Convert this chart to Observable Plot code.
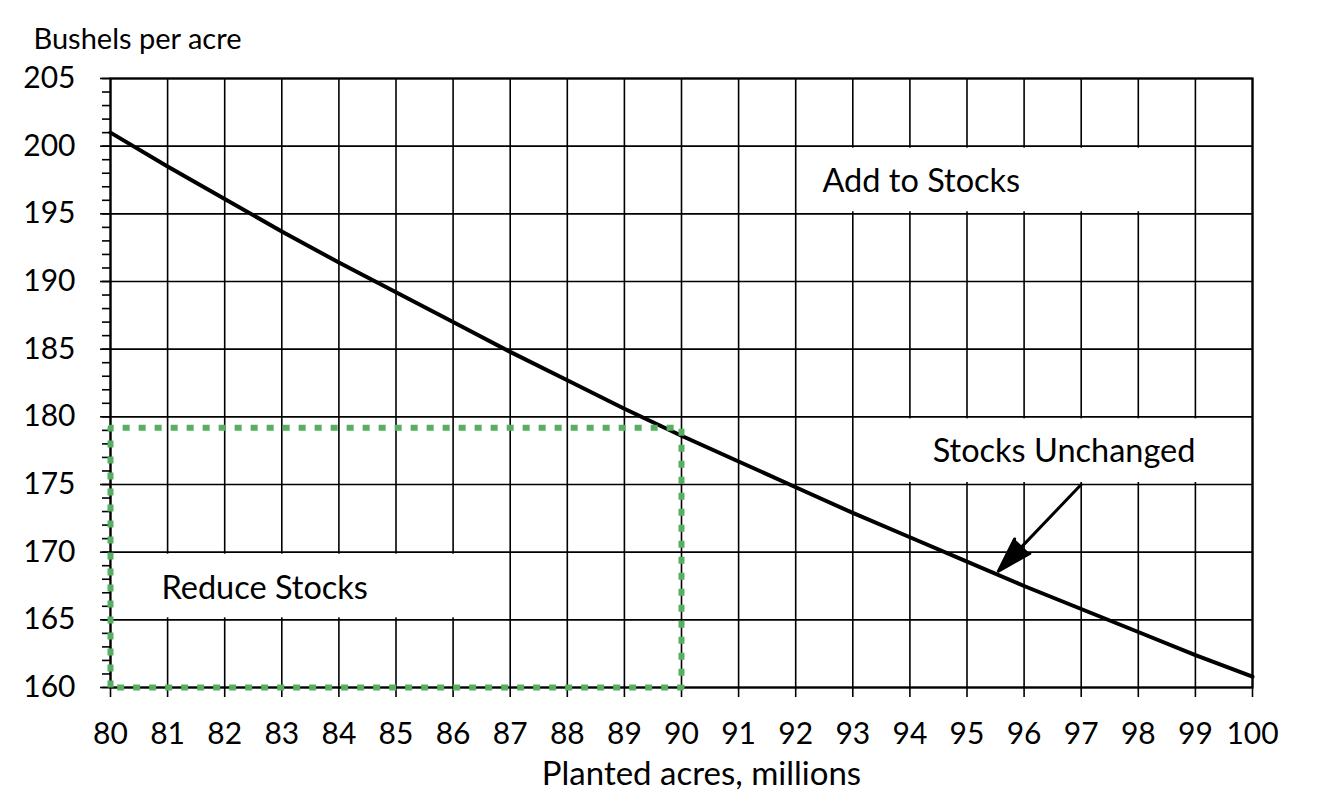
<!DOCTYPE html>
<html>
<head>
<meta charset="utf-8">
<script src="https://cdn.jsdelivr.net/npm/d3@7"></script>
<script src="https://cdn.jsdelivr.net/npm/@observablehq/plot@0.6"></script>
<style>
  html, body { margin: 0; padding: 0; background: #fff; }
  #chart svg { display: block; }
</style>
</head>
<body>
<div id="chart"></div>
<script>
// Planted acres (millions) and yield needed to keep stocks unchanged
const acres = [80, 81, 82, 83, 84, 85, 86, 87, 88, 89, 90, 91, 92, 93, 94, 95, 96, 97, 98, 99, 100];
const bushels = [201.0, 198.5, 196.1, 193.7, 191.4, 189.2, 187.0, 184.8, 182.7, 180.6, 178.6, 176.7, 174.8, 172.9, 171.1, 169.3, 167.5, 165.8, 164.1, 162.4, 160.8];

const xTicks = d3.range(80, 101, 1);
const yTicks = [160, 165, 170, 175, 180, 185, 190, 195, 200, 205];
const yMinorTicks = d3.range(160, 206, 1);

// dotted "Reduce Stocks" region corners
const regionX = [80, 80, 90, 90, 80];
const regionY = [160, 179.2, 179.2, 160, 160];

// annotation labels
const labelText = ["Add to Stocks", "Reduce Stocks", "Stocks Unchanged"];
const labelX = [94.2, 82.7, 96.7];
const labelY = [197.4, 167.3, 177.4];
const boxX1 = [92.05, 80, 93.05];
const boxX2 = [98.95, 86.5, 99.95];
const boxY1 = [195, 165, 175];
const boxY2 = [200, 170, 180];

// arrow pointing at the curve
const arrowFrom = [97.0, 175.0];
const arrowTo = [95.55, 168.6];

const curve = acres.map((a, i) => ({x: a, y: bushels[i]}));
const region = regionX.map((x, i) => ({x, y: regionY[i]}));
const labels = labelText.map((t, i) => ({text: t, x: labelX[i], y: labelY[i], x1: boxX1[i], x2: boxX2[i], y1: boxY1[i], y2: boxY2[i]}));

const chart = Plot.plot({
  width: 1340,
  height: 802,
  marginTop: 78,
  marginLeft: 110,
  marginRight: 88,
  marginBottom: 115,
  style: {fontFamily: "Lato, 'Open Sans', sans-serif", fontSize: "30px", color: "#000", background: "#fff"},
  x: {domain: [80, 100], ticks: xTicks},
  y: {domain: [160, 205], ticks: yTicks},
  marks: [
    Plot.gridX(xTicks, {stroke: "#000", strokeOpacity: 1, strokeWidth: 1.6}),
    Plot.rect(labels, {x1: "x1", x2: "x2", y1: "y1", y2: "y2", fill: "#fff", insetTop: 2, insetBottom: 2}),
    Plot.gridY(yTicks, {stroke: "#000", strokeOpacity: 1, strokeWidth: 1.6}),
    Plot.axisY(yMinorTicks, {tickSize: 8, text: null, label: null, strokeWidth: 1.6}),
    Plot.axisY(yTicks, {tickSize: 10, tickPadding: 25, label: null, strokeWidth: 1.6, fontSize: 30}),
    Plot.axisX(xTicks, {tickSize: 10, tickPadding: 25, label: null, strokeWidth: 1.6, fontSize: 30}),
    Plot.frame({stroke: "#000", strokeWidth: 2.2}),
    Plot.line(curve, {x: "x", y: "y", stroke: "#000", strokeWidth: 4}),
    Plot.line(region, {x: "x", y: "y", stroke: "#55b060", strokeWidth: 6, strokeDasharray: "7,9", strokeLinecap: "butt"}),
    Plot.text(labels, {x: "x", y: "y", text: "text", fontSize: 32.5, fill: "#000"}),
    Plot.arrow([{x1: arrowFrom[0], y1: arrowFrom[1], x2: arrowTo[0], y2: arrowTo[1]}], {x1: "x1", y1: "y1", x2: "x2", y2: "y2", stroke: "#000", fill: "#000", strokeWidth: 3, headLength: 18, headAngle: 34, strokeLinejoin: "miter"}),
    Plot.text(["Bushels per acre"], {frameAnchor: "top-left", dx: -77, dy: -50, textAnchor: "start", fontSize: 29, fill: "#000"}),
    Plot.text(["Planted acres, millions"], {frameAnchor: "bottom", dx: 20, dy: 97, fontSize: 33, fill: "#000"})
  ]
});
document.getElementById("chart").appendChild(chart);
</script>
</body>
</html>
